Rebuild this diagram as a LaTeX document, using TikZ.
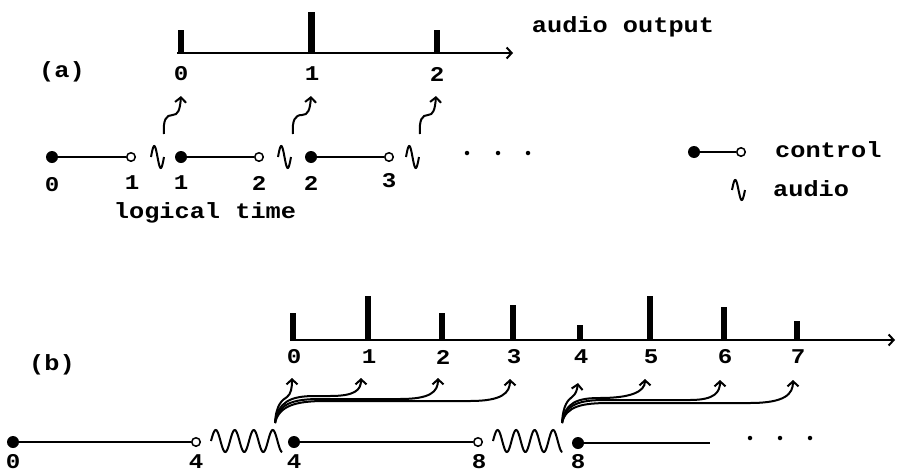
\documentclass[tikz,border=0pt]{standalone}
\usepackage{fontspec}
\setmonofont{Liberation Mono}[FakeStretch=1.15]
\usetikzlibrary{arrows.meta}
\begin{document}
\begin{tikzpicture}[x=1pt,y=-1pt,
  lab/.style={font=\ttfamily\bfseries\fontsize{22}{24}\selectfont, inner sep=0pt},
  num/.style={font=\ttfamily\bfseries\fontsize{21}{24}\selectfont, inner sep=0pt},
  fdot/.style={circle,fill,inner sep=0pt,minimum size=12pt},
  odot/.style={circle,draw,fill=white,line width=1.5pt,inner sep=0pt,minimum size=8.5pt},
  smalldot/.style={circle,fill,inner sep=0pt,minimum size=4.5pt},
  ctl/.style={line width=2.2pt},
  axisline/.style={line width=2.2pt,-{Straight Barb[length=5pt,width=11pt,line width=2pt]}},
  wav/.style={line width=2pt},
  arr/.style={line width=2pt,-{Straight Barb[length=5pt,width=11pt,line width=2pt]}},
  barstyle/.style={fill=black}
]
\useasboundingbox (0,0) rectangle (897,474);

% ---------------- (a) ----------------
\node[lab] (la) at (62,72) {(a)};
\node[lab] (audout) at (623,27) {audio output};
\coordinate (axA0) at (177,53);
\coordinate (axA1) at (513,53);
\draw[axisline] (axA0) -- (axA1);
\fill[barstyle] (178,30) rectangle (184,53);
\fill[barstyle] (308,12) rectangle (315,53);
\fill[barstyle] (434,30) rectangle (440,53);
\node[num] (oa0) at (181,74) {0};
\node[num] (oa1) at (312,74) {1};
\node[num] (oa2) at (437,74) {2};

\node[fdot] (c0) at (52,157) {};
\node[odot] (c1) at (131,157) {};
\node[fdot] (c2) at (181,157) {};
\node[odot] (c3) at (259,157) {};
\node[fdot] (c4) at (311,157) {};
\node[odot] (c5) at (389,157) {};
\draw[ctl] (c0) -- (c1);
\draw[ctl] (c2) -- (c3);
\draw[ctl] (c4) -- (c5);
\foreach \xs in {151,278,406}{
  \draw[wav] plot[domain=0:1,samples=40,smooth] ({\xs+13*\x},{157-11*sin(360*\x)});
}
\node[num] (t0) at (52,185) {0};
\node[num] (t1) at (132,183) {1};
\node[num] (t2) at (181,183) {1};
\node[num] (t3) at (259,183) {2};
\node[num] (t4) at (311,183) {2};
\node[num] (t5) at (389,181) {3};
\node[lab] (lt) at (205,213) {logical time};

\foreach \s/\e/\n in {164/181/1, 293/311/2, 420/436/3}{
  \coordinate (sqs\n) at (\s,134);
  \coordinate (sqe\n) at (\e,96);
  \draw[arr] (sqs\n) .. controls (\s-1,120) and (\s+2,115) .. ({(\s+\e)/2},115)
     .. controls (\e-3,115) and (\e-1,110) .. (sqe\n);
}
\node[smalldot] (da1) at (467,153) {};
\node[smalldot] (da2) at (498,153) {};
\node[smalldot] (da3) at (528,153) {};

% legend
\node[fdot] (lg0) at (694,152) {};
\node[odot] (lg1) at (741,152) {};
\draw[ctl] (lg0) -- (lg1);
\node[lab,anchor=west] (lgc) at (775,150) {control};
\draw[wav] plot[domain=0:1,samples=40,smooth] ({732+13*\x},{190-10*sin(360*\x)});
\node[lab,anchor=west] (lga) at (773,189) {audio};

% ---------------- (b) ----------------
\node[lab] (lb) at (52,365) {(b)};
\coordinate (axB0) at (290,340);
\coordinate (axB1) at (895,340);
\draw[axisline] (axB0) -- (axB1);
\foreach \bx/\bt/\lbl in {293/313/0, 368/296/1, 442/313/2, 513/305/3, 580/325/4, 650/296/5, 724/307/6, 797/321/7}{
  \fill[barstyle] (\bx-3,\bt) rectangle (\bx+3,340);
  \node[num] (ob\lbl) at (\bx+1,357) {\lbl};
}

\node[fdot] (b0) at (13,442) {};
\node[odot] (b1) at (196,442) {};
\node[fdot] (b2) at (294,442) {};
\node[odot] (b3) at (478,442) {};
\node[fdot] (b4) at (578,443) {};
\coordinate (bend) at (710,443);
\draw[ctl] (b0) -- (b1);
\draw[ctl] (b2) -- (b3);
\draw[ctl] (b4) -- (bend);
\draw[wav] plot[domain=0:3.75,samples=120,smooth] ({211+19*\x},{441-11*sin(360*\x)});
\draw[wav] plot[domain=0:3.75,samples=120,smooth] ({493+18.5*\x},{441-11*sin(360*\x)});
\node[num] (bt0) at (13,462) {0};
\node[num] (bt1) at (196,462) {4};
\node[num] (bt2) at (294,462) {4};
\node[num] (bt3) at (479,462) {8};
\node[num] (bt4) at (578,462) {8};
\node[smalldot] (db1) at (750,438) {};
\node[smalldot] (db2) at (780,438) {};
\node[smalldot] (db3) at (810,438) {};

% fan 1
\coordinate (f1) at (275,423);
\coordinate (g0) at (292,378);
\coordinate (g1) at (361,378);
\coordinate (g2) at (438,378);
\coordinate (g3) at (510,379);
\draw[arr] (f1) .. controls (276,405) and (282,400) .. (287,397) .. controls (291,394) and (292,388) .. (g0);
\draw[arr] (f1) .. controls (278,402) and (290,396) .. (315,396) -- (330,396) .. controls (355,396) and (361,390) .. (g1);
\draw[arr] (f1) .. controls (278,404) and (292,399) .. (320,399) -- (400,399) .. controls (430,399) and (438,392) .. (g2);
\draw[arr] (f1) .. controls (279,406) and (295,401) .. (325,401) -- (470,401) .. controls (502,401) and (510,393) .. (g3);

% fan 2
\coordinate (f2) at (562,423);
\coordinate (h0) at (578,383);
\coordinate (h1) at (645,379);
\coordinate (h2) at (720,380);
\coordinate (h3) at (793,380);
\draw[arr] (f2) .. controls (563,405) and (568,400) .. (572,397) .. controls (576,394) and (577,390) .. (h0);
\draw[arr] (f2) .. controls (565,402) and (578,398) .. (600,398) .. controls (630,398) and (645,392) .. (h1);
\draw[arr] (f2) .. controls (565,404) and (580,400) .. (605,400) -- (690,400) .. controls (715,400) and (720,392) .. (h2);
\draw[arr] (f2) .. controls (566,406) and (582,403) .. (610,403) -- (750,403) .. controls (785,403) and (793,394) .. (h3);
\end{tikzpicture}
\end{document}
